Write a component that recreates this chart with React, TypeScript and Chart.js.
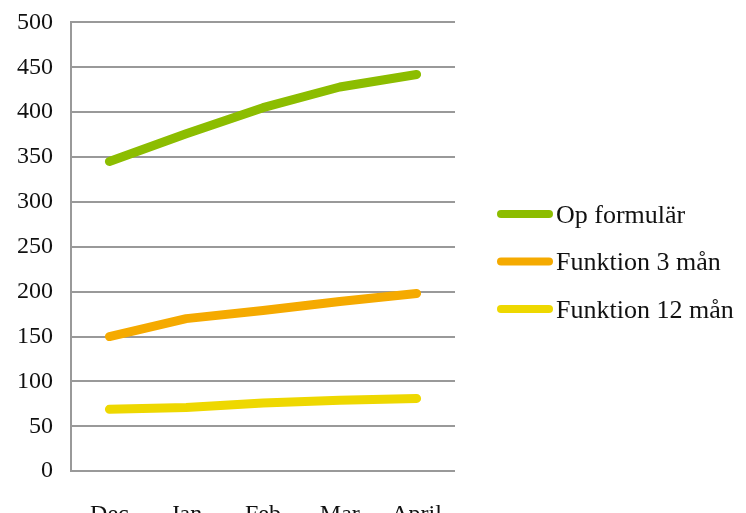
import React, { useEffect, useRef } from "react";
import { Chart, registerables } from "chart.js";

Chart.register(...registerables);

const categories = ["Dec", "Jan", "Feb", "Mar", "April"];
const opFormular = [345, 376, 405, 428, 442];
const funktion3 = [150, 170, 179, 189, 198];
const funktion12 = [69, 71, 76, 79, 81];
const yTicks = [0, 50, 100, 150, 200, 250, 300, 350, 400, 450, 500];

const FONT = "'Liberation Serif', 'Times New Roman', serif";
const SHIFT = 10;

const sideLegend = {
  id: "sideLegend",
  afterDraw(chart: any) {
    const ctx = chart.ctx;
    const x0 = chart.chartArea.right + 42;
    const x1 = x0 + 56;
    const yStart = 214 + SHIFT;
    const step = 47.5;
    ctx.save();
    chart.data.datasets.forEach((ds: any, i: number) => {
      const y = yStart + i * step;
      ctx.strokeStyle = ds.borderColor;
      ctx.lineWidth = 8;
      ctx.lineCap = "round";
      ctx.beginPath();
      ctx.moveTo(x0 + 4, y);
      ctx.lineTo(x1 - 4, y);
      ctx.stroke();
      ctx.fillStyle = "#111";
      ctx.font = `26px ${FONT}`;
      ctx.textBaseline = "middle";
      ctx.textAlign = "left";
      ctx.fillText(ds.label, x1 + 3, y + 2);
    });
    ctx.restore();
  },
};

export default function App() {
  const ref = useRef<HTMLCanvasElement | null>(null);
  useEffect(() => {
    if (!ref.current) return;
    const mk = (label: string, data: number[], color: string) => ({
      label,
      data,
      borderColor: color,
      backgroundColor: color,
      borderWidth: 9,
      borderCapStyle: "round" as const,
      borderJoinStyle: "round" as const,
      pointRadius: 0,
      pointHoverRadius: 0,
      tension: 0,
      fill: false,
    });
    const chart = new Chart(ref.current, {
      type: "line",
      data: {
        labels: categories,
        datasets: [
          mk("Op formulär", opFormular, "#8cbd00"),
          mk("Funktion 3 mån", funktion3, "#f5aa00"),
          mk("Funktion 12 mån", funktion12, "#eed800"),
        ],
      },
      options: {
        animation: false,
        responsive: false,
        maintainAspectRatio: false,
        layout: { padding: { left: -1, right: 291, top: 0, bottom: -35 } },
        plugins: {
          tooltip: { enabled: false },
          legend: { display: false },
        },
        scales: {
          x: {
            offset: true,
            grid: { display: false, drawTicks: false },
            border: { display: false },
            ticks: {
              color: "#111",
              font: { family: FONT, size: 24 },
              padding: 29,
              maxRotation: 0,
            },
          },
          y: {
            min: 0,
            max: 500,
            afterBuildTicks: (axis: any) => {
              axis.ticks = yTicks.map((v) => ({ value: v }));
            },
            grid: { color: "#999999", lineWidth: 2, drawTicks: false },
            border: { display: true, color: "#999999", width: 2 },
            ticks: {
              color: "#111",
              font: { family: FONT, size: 24 },
              padding: 18,
            },
          },
        },
      },
      plugins: [sideLegend],
    });
    return () => chart.destroy();
  }, []);
  return (
    <div
      style={{
        position: "absolute",
        left: 0,
        top: 0,
        width: 746,
        height: 513,
        overflow: "hidden",
        background: "#fff",
      }}
    >
      <canvas
        ref={ref}
        width={746}
        height={533}
        style={{ width: 746, height: 533, display: "block", marginTop: -SHIFT }}
      />
    </div>
  );
}
